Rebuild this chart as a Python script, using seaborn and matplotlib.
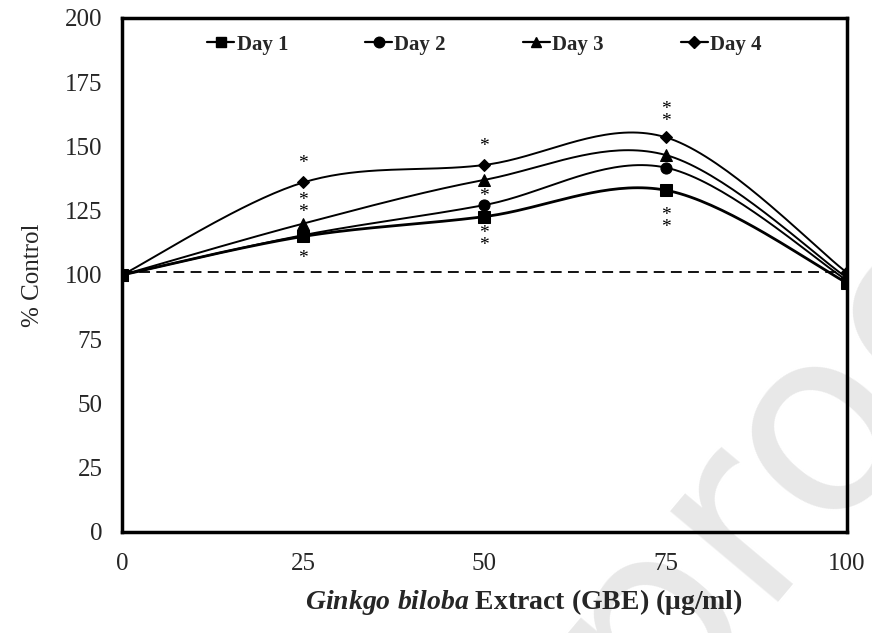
import numpy as np
import pandas as pd
import matplotlib
matplotlib.use("Agg")
import matplotlib.pyplot as plt
from matplotlib.lines import Line2D
import seaborn as sns

# Data
dose = [0, 25, 50, 75, 100]
day1 = [100, 115, 122.7, 133, 97]
day2 = [100, 115.5, 127.2, 141.8, 98]
day3 = [100, 120, 137, 146.7, 99]
day4 = [100, 136, 142.8, 153.6, 101]
series_names = ["Day 1", "Day 2", "Day 3", "Day 4"]
markers = ["s", "o", "^", "D"]
marker_sizes = [8, 8, 8, 6.5]

# significance stars (x, y, label)
star_x = [25, 25, 25, 50, 50, 50, 75, 75]
star_y = [143.5, 126.6, 106.5, 150.0, 130.5, 113.7, 162.2, 120.9]
star_text = ["*", "*\n*", "*", "*", "*", "*\n*", "*\n*", "*\n*"]
control_level = 101


def smooth(x, y, n=40):
    # Excel-style smoothed line (Catmull-Rom bezier between points)
    x = np.asarray(x, float)
    y = np.asarray(y, float)
    px, py = [], []
    for i in range(len(x) - 1):
        x0, y0 = (x[i - 1], y[i - 1]) if i > 0 else (x[i], y[i])
        x3, y3 = (x[i + 2], y[i + 2]) if i + 2 < len(x) else (x[i + 1], y[i + 1])
        c1 = (x[i] + (x[i + 1] - x0) / 6, y[i] + (y[i + 1] - y0) / 6)
        c2 = (x[i + 1] - (x3 - x[i]) / 6, y[i + 1] - (y3 - y[i]) / 6)
        t = np.linspace(0, 1, n)
        bx = (1 - t) ** 3 * x[i] + 3 * (1 - t) ** 2 * t * c1[0] + 3 * (1 - t) * t ** 2 * c2[0] + t ** 3 * x[i + 1]
        by = (1 - t) ** 3 * y[i] + 3 * (1 - t) ** 2 * t * c1[1] + 3 * (1 - t) * t ** 2 * c2[1] + t ** 3 * y[i + 1]
        px.extend(bx)
        py.extend(by)
    return np.array(px), np.array(py)


sns.set_style("white")
plt.rcParams["font.family"] = ["Liberation Serif", "DejaVu Serif"]
plt.rcParams["mathtext.fontset"] = "custom"
plt.rcParams["mathtext.it"] = "Liberation Serif:italic:bold"
plt.rcParams["mathtext.rm"] = "Liberation Serif:bold"

df = pd.DataFrame({"dose": dose * 4,
                   "value": day1 + day2 + day3 + day4,
                   "day": sum([[n] * len(dose) for n in series_names], [])})

fig = plt.figure(figsize=(8.72, 6.33), dpi=100)
ax = fig.add_axes([0.140, 0.1596, 0.831, 0.812])
ax.set_facecolor("none")

# watermark, behind everything
fig.text(0.93, 0.33, "proof", fontsize=185, color="#e8e8e8", rotation=50,
         ha="center", va="center", zorder=-5, fontfamily="DejaVu Sans")

ax.axhline(control_level, color="black", linestyle=(0, (6, 3.5)), linewidth=1.3, zorder=1)

for name, m, ms, lw in zip(series_names, markers, marker_sizes, [2.0, 1.4, 1.4, 1.4]):
    sub = df[df["day"] == name]
    sx, sy = smooth(sub["dose"], sub["value"])
    ax.plot(sx, sy, color="black", linewidth=lw, zorder=2)
    sns.lineplot(data=sub, x="dose", y="value", marker=m, markersize=ms,
                 color="black", linestyle="none", markeredgecolor="black",
                 label=name, ax=ax, zorder=3)

for x, y, s in zip(star_x, star_y, star_text):
    ax.text(x, y, s, fontsize=14, ha="center", va="center", color="black",
            linespacing=0.6, zorder=4)

ax.set_xlim(0, 100)
ax.set_ylim(0, 200)
ax.set_xticks([0, 25, 50, 75, 100])
ax.set_yticks(range(0, 201, 25))
ax.tick_params(axis="both", direction="out", length=5, width=1, labelsize=18, color="black")
ax.tick_params(axis="x", pad=10)
ax.tick_params(axis="y", pad=9)
for s in ax.spines.values():
    s.set_linewidth(2.5)
    s.set_color("black")

ax.set_ylabel("% Control", fontsize=18)
ax.yaxis.set_label_coords(-0.108, 0.5)
ax.set_xlabel(r"$\mathit{Ginkgo\ biloba}$ Extract (GBE) (μg/ml)", fontsize=20,
              fontweight="bold")
ax.xaxis.set_label_coords(0.555, -0.108)

labels = series_names
handles = [Line2D([], [], color="black", marker=m, markersize=ms * 0.95, linewidth=1.6)
           for m, ms in zip(markers, marker_sizes)]
ax.legend(handles, labels, loc="upper center", ncol=4, frameon=False,
          bbox_to_anchor=(0.5, 1.004), handlelength=1.3, handletextpad=0.1,
          columnspacing=3.7, prop={"weight": "bold", "size": 15})

plt.savefig("out.png", dpi=100)
